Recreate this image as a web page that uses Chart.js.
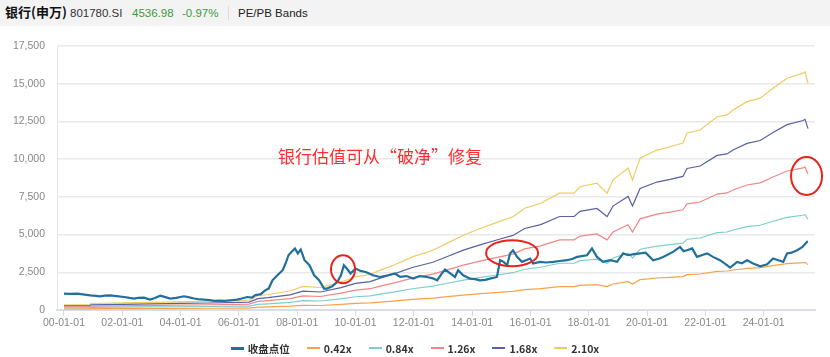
<!DOCTYPE html>
<html>
<head>
<meta charset="utf-8">
<script src="https://cdn.jsdelivr.net/npm/chart.js@4.4.1/dist/chart.umd.min.js"></script>
<style>
html,body{margin:0;padding:0;background:#fff;}
#wrap{position:relative;width:830px;height:357px;overflow:hidden;background:#fff;}
#c{position:absolute;left:0;top:0;}
#hdr{position:absolute;left:0;top:0;width:830px;height:26px;background:#f3f3f3;font-family:"Liberation Sans","Noto Sans CJK SC",sans-serif;}
#hdr span{position:absolute;top:5px;line-height:16px;white-space:nowrap;}
#hdr .nm{left:5px;font-family:"Noto Sans CJK SC",sans-serif;font-weight:bold;font-size:13px;color:#111;top:3px;line-height:18px;}
#hdr .code{left:70px;font-size:11.5px;color:#333;}
#hdr .px{left:132px;font-size:11.5px;color:#3c9a3c;}
#hdr .chg{left:182px;font-size:11.5px;color:#3c9a3c;}
#hdr .sep{left:228px;top:6px;width:1px;height:14px;background:#dcdcdc;}
#hdr .bands{left:238px;font-size:11.5px;color:#222;}
#legend{position:absolute;left:0;top:340px;width:830px;height:16px;display:flex;justify-content:center;align-items:center;font-family:"Noto Sans CJK SC",sans-serif;font-weight:bold;font-size:10.5px;color:#333;}
#legend .it{display:flex;align-items:center;margin:0 8.5px;}
#legend .ln{display:inline-block;width:13px;margin-right:4px;}
</style>
</head>
<body>
<div id="wrap">
<canvas id="c" width="830" height="357"></canvas>
<div id="hdr"><span class="nm">银行(申万)</span><span class="code">801780.SI</span><span class="px">4536.98</span><span class="chg">-0.97%</span><span class="sep"></span><span class="bands">PE/PB Bands</span></div>
<div id="legend"></div>
</div>
<script>
// ---- data ----
const tickYears = [2000,2002,2004,2006,2008,2010,2012,2014,2016,2018,2020,2022,2024];

const closeName = '收盘点位';
const closeYears = [2000.00,2000.20,2000.45,2000.65,2000.90,2001.10,2001.23,2001.40,2001.58,2001.80,2002.06,2002.25,2002.40,2002.55,2002.74,2002.95,2003.10,2003.30,2003.45,2003.64,2003.85,2004.12,2004.30,2004.46,2004.60,2004.80,2005.00,2005.15,2005.35,2005.50,2005.70,2005.93,2006.10,2006.28,2006.45,2006.55,2006.75,2006.90,2007.02,2007.15,2007.32,2007.50,2007.60,2007.70,2007.80,2007.92,2008.02,2008.12,2008.25,2008.42,2008.58,2008.75,2008.92,2009.02,2009.20,2009.37,2009.50,2009.60,2009.70,2009.83,2010.00,2010.17,2010.35,2010.60,2010.84,2011.11,2011.35,2011.53,2011.75,2011.97,2012.20,2012.45,2012.65,2012.80,2012.95,2013.07,2013.25,2013.41,2013.52,2013.69,2013.93,2014.10,2014.27,2014.45,2014.61,2014.85,2014.96,2015.08,2015.20,2015.30,2015.40,2015.54,2015.71,2015.85,2015.99,2016.09,2016.33,2016.55,2016.78,2017.00,2017.26,2017.45,2017.60,2017.94,2018.11,2018.28,2018.49,2018.73,2018.97,2019.18,2019.35,2019.55,2019.76,2019.95,2020.21,2020.40,2020.55,2020.89,2021.13,2021.25,2021.37,2021.55,2021.71,2021.90,2022.06,2022.26,2022.50,2022.74,2022.85,2023.09,2023.25,2023.43,2023.64,2023.88,2024.12,2024.32,2024.50,2024.67,2024.80,2024.95,2025.15,2025.33,2025.49,2025.52];
const closeValues = [1090,1070,1090,1040,975,940,910,950,975,920,860,800,760,800,820,690,780,950,870,760,800,910,840,760,720,690,650,600,620,600,640,690,760,860,820,975,1050,1300,1420,1970,2300,2640,3080,3630,3850,4080,3750,4010,3300,2970,2300,1970,1420,1420,1570,1860,2300,2970,2750,2420,2750,2590,2520,2300,2190,2300,2420,2190,2250,2080,2250,2190,2100,1970,2400,2680,2420,2190,2640,2300,2080,2050,1970,2000,2080,2190,3300,3190,2970,3750,3960,3520,3190,3300,3410,3080,3190,3150,3190,3250,3300,3400,3520,3630,4080,3520,3190,3300,3190,3750,3630,3700,3750,3800,3300,3400,3520,3850,4180,3900,3960,4080,3520,3650,3750,3520,3300,2970,2810,3190,3100,3300,3080,2900,3030,3410,3300,3190,3750,3800,3960,4180,4520,4540];

const bandNames = ['0.42x','0.84x','1.26x','1.68x','2.10x'];
const bandYears = [2000.00,2000.88,2000.92,2002.00,2003.00,2004.00,2005.00,2006.00,2006.35,2006.65,2007.00,2007.75,2008.20,2008.80,2009.50,2010.00,2010.50,2010.85,2011.30,2011.95,2012.65,2013.15,2013.70,2014.30,2014.90,2015.40,2015.80,2016.35,2017.00,2017.50,2017.70,2018.28,2018.63,2018.83,2019.35,2019.50,2019.76,2020.34,2020.79,2021.23,2021.37,2021.82,2022.40,2022.74,2022.95,2023.43,2023.88,2024.32,2024.80,2025.35,2025.42,2025.52];
const band042 = [67,68,86,93,101,108,116,126,130,189,206,252,313,298,372,440,470,528,594,704,792,886,992,1084,1168,1236,1350,1416,1550,1550,1634,1682,1550,1722,1882,1722,2014,2120,2164,2214,2346,2386,2562,2586,2652,2762,2808,2940,3072,3140,3160,3006];
const band084 = [134,136,172,186,202,217,232,252,260,378,412,504,626,596,743,880,941,1056,1188,1408,1584,1772,1984,2168,2336,2472,2700,2832,3100,3100,3268,3364,3100,3444,3764,3444,4028,4240,4328,4428,4692,4772,5124,5172,5304,5524,5616,5880,6144,6280,6320,6012];
const band126 = [202,204,258,280,302,325,348,378,391,567,617,756,939,895,1115,1320,1411,1584,1782,2112,2376,2659,2976,3252,3504,3708,4050,4247,4649,4649,4901,5046,4649,5166,5646,5166,6042,6360,6492,6641,7038,7158,7686,7758,7956,8286,8424,8820,9216,9420,9480,9018];
const band168 = [269,272,344,373,403,433,464,504,521,756,823,1008,1252,1193,1487,1761,1882,2112,2376,2816,3168,3545,3968,4336,4672,4944,5400,5663,6199,6199,6535,6728,6199,6888,7528,6888,8056,8481,8655,8855,9384,9544,10248,10344,10608,11048,11232,11760,12288,12560,12640,12024];
const band210 = [336,340,431,466,504,542,580,630,651,945,1029,1260,1565,1491,1859,2201,2352,2640,2969,3520,3961,4431,4960,5420,5840,6180,6749,7079,7749,7749,8169,8411,7749,8610,9410,8610,10070,10601,10819,11069,11731,11930,12810,12930,13259,13810,14041,14700,15359,15700,15800,15030];

const yTicks = [0,2500,5000,7500,10000,12500,15000,17500];
const noteText = '银行估值可从“破净”修复';
const notePoint = {x: 2010.84, y: 10170};
const circlePoints = [{x: 2009.57, y: 2700}, {x: 2015.37, y: 3770}, {x: 2025.47, y: 8880}];

// ---- styles ----
const closeColor = '#21709c';
const bandColors = ['#f7a24b','#7ccfcd','#f08686','#5861a3','#eecb62'];
const circleRadii = [[12,14],[26,13],[15.5,19]];

function pts(xs, ys){ return xs.map((x,i)=>({x:x, y:ys[i]})); }
const bandSeries = [band042, band084, band126, band168, band210];

const datasets = [{
  label: closeName, data: pts(closeYears, closeValues),
  borderColor: closeColor, borderWidth: 2.2, pointRadius: 0, tension: 0
}];
bandSeries.forEach((s,i)=>{
  datasets.push({label: bandNames[i], data: pts(bandYears, s), borderColor: bandColors[i], borderWidth: 1.2, pointRadius: 0, tension: 0});
});

const notesPlugin = {
  id: 'notes',
  afterDraw(chart){
    const ctx = chart.ctx, xs = chart.scales.x, ys = chart.scales.y;
    ctx.save();
    ctx.fillStyle = '#ff2d2d';
    ctx.font = '17px "Noto Sans CJK SC", sans-serif';
    ctx.textAlign = 'center';
    ctx.textBaseline = 'middle';
    ctx.fillText(noteText, xs.getPixelForValue(notePoint.x), ys.getPixelForValue(notePoint.y));
    ctx.strokeStyle = '#e8231c';
    ctx.lineWidth = 2;
    circlePoints.forEach((p,i)=>{
      ctx.beginPath();
      ctx.ellipse(xs.getPixelForValue(p.x), ys.getPixelForValue(p.y), circleRadii[i][0], circleRadii[i][1], 0, 0, Math.PI*2);
      ctx.stroke();
    });
    ctx.restore();
  }
};

const chart = new Chart(document.getElementById('c'), {
  type: 'line',
  data: {datasets: datasets},
  options: {
    responsive: false, animation: false, parsing: true,
    layout: {padding: {left: 0, right: 15, top: 46, bottom: 17}},
    plugins: {legend: {display: false}, tooltip: {enabled: false}},
    scales: {
      x: {
        type: 'linear', min: 1999.76, max: 2025.76,
        afterBuildTicks(s){ s.ticks = tickYears.map(v=>({value: v})); },
        afterFit(s){ s.height = 30; },
        ticks: {autoSkip: false, maxRotation: 0, color: '#888', padding: 1,
          font: {size: 10.5, family: '"Liberation Sans", sans-serif'},
          callback: v => String(v % 100).padStart(2,'0') + '-01-01'},
        grid: {drawOnChartArea: false, drawTicks: true, tickLength: 6, color: '#d3dbe8', lineWidth: 1},
        border: {color: '#d7deea', width: 2}
      },
      y: {
        min: 0, max: 17500,
        afterBuildTicks(s){ s.ticks = yTicks.map(v=>({value: v})); },
        afterFit(s){ s.width = 57; },
        ticks: {color: '#888', padding: 12, font: {size: 10.5, family: '"Liberation Sans", sans-serif'},
          callback: v => v.toLocaleString('en-US')},
        grid: {color: '#e9e9e9', lineWidth: 1.5, drawTicks: false},
        border: {color: '#dfe5f0', width: 1}
      }
    }
  },
  plugins: [notesPlugin]
});

// legend built from the chart's datasets
const lg = document.getElementById('legend');
chart.data.datasets.forEach((d,i)=>{
  const it = document.createElement('span'); it.className = 'it';
  const ln = document.createElement('span'); ln.className = 'ln';
  ln.style.height = (i === 0 ? 3 : 1.5) + 'px';
  ln.style.background = d.borderColor;
  const tx = document.createElement('span'); tx.textContent = d.label;
  it.appendChild(ln); it.appendChild(tx); lg.appendChild(it);
});
</script>
</body>
</html>
